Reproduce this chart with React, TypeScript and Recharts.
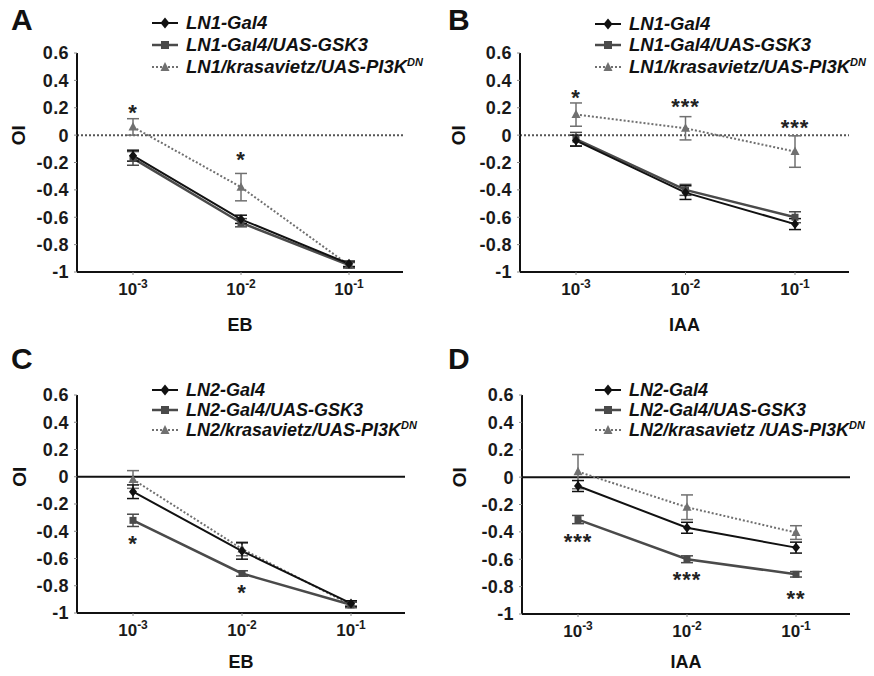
import React from "react";
import {
  ErrorBar,
  Label,
  Legend,
  Line,
  LineChart,
  ReferenceLine,
  XAxis,
  YAxis,
} from "recharts";

const FONT = '"Liberation Sans", Arial, Helvetica, sans-serif';

// concentrations are 10^x, x from this list
const exponents = ["-3", "-2", "-1"];
const yTicks = [-1, -0.8, -0.6, -0.4, -0.2, 0, 0.2, 0.4, 0.6];

// A: LN1, EB
const aGal4 = [-0.15, -0.615, -0.94];
const aGal4Err = [0.04, 0.03, 0.02];
const aGsk3 = [-0.17, -0.64, -0.95];
const aGsk3Err = [0.05, 0.03, 0.02];
const aPi3k = [0.06, -0.38, -0.95];
const aPi3kErr = [0.06, 0.1, 0.02];
const aStars = ["*", "*", ""];
const aStarY = [0.2, -0.145, null];

// B: LN1, IAA
const bGal4 = [-0.04, -0.42, -0.65];
const bGal4Err = [0.04, 0.05, 0.04];
const bGsk3 = [-0.03, -0.4, -0.6];
const bGsk3Err = [0.05, 0.04, 0.04];
const bPi3k = [0.15, 0.05, -0.12];
const bPi3kErr = [0.085, 0.085, 0.115];
const bStars = ["*", "***", "***"];
const bStarY = [0.31, 0.24, 0.09];

// C: LN2, EB
const cGal4 = [-0.11, -0.545, -0.93];
const cGal4Err = [0.05, 0.06, 0.02];
const cGsk3 = [-0.32, -0.71, -0.94];
const cGsk3Err = [0.045, 0.02, 0.02];
const cPi3k = [-0.02, -0.53, -0.94];
const cPi3kErr = [0.065, 0.05, 0.02];
const cStars = ["*", "*", ""];
const cStarY = [-0.46, -0.815, null];

// D: LN2, IAA
const dGal4 = [-0.065, -0.37, -0.515];
const dGal4Err = [0.04, 0.04, 0.04];
const dGsk3 = [-0.31, -0.6, -0.71];
const dGsk3Err = [0.03, 0.025, 0.02];
const dPi3k = [0.04, -0.22, -0.405];
const dPi3kErr = [0.125, 0.09, 0.05];
const dStars = ["***", "***", "**"];
const dStarY = [-0.44, -0.715, -0.855];

const ln1Names = ["LN1-Gal4", "LN1-Gal4/UAS-GSK3", "LN1/krasavietz/UAS-PI3K"];
const ln2Names = ["LN2-Gal4", "LN2-Gal4/UAS-GSK3", "LN2/krasavietz/UAS-PI3K"];
const ln2NamesD = ["LN2-Gal4", "LN2-Gal4/UAS-GSK3", "LN2/krasavietz /UAS-PI3K"];

const C_GAL4 = "#111";
const C_GSK3 = "#4a4a4a";
const C_PI3K = "#707070";

function makeRows(
  gal4: number[], gal4Err: number[],
  gsk3: number[], gsk3Err: number[],
  pi3k: number[], pi3kErr: number[],
  stars: string[], starY: (number | null)[]
) {
  return exponents.map((e, i) => ({
    conc: e,
    gal4: gal4[i], gal4Err: gal4Err[i],
    gsk3: gsk3[i], gsk3Err: gsk3Err[i],
    pi3k: pi3k[i], pi3kErr: pi3kErr[i],
    star: stars[i], starY: starY[i],
  }));
}

const Diamond = (p: any) => {
  const { cx, cy, index } = p;
  if (cx == null || cy == null) return <g key={index} />;
  return <path key={index} d={`M${cx},${cy - 5}L${cx + 4},${cy}L${cx},${cy + 5}L${cx - 4},${cy}Z`} fill={C_GAL4} />;
};
const Square = (p: any) => {
  const { cx, cy, index } = p;
  if (cx == null || cy == null) return <g key={index} />;
  return <rect key={index} x={cx - 3.5} y={cy - 3.5} width={7} height={7} fill={C_GSK3} />;
};
const Triangle = (p: any) => {
  const { cx, cy, index } = p;
  if (cx == null || cy == null) return <g key={index} />;
  return <path key={index} d={`M${cx},${cy - 5}L${cx + 4.5},${cy + 3.5}L${cx - 4.5},${cy + 3.5}Z`} fill={C_PI3K} />;
};
const StarDot = (p: any) => {
  const { cx, cy, index, payload } = p;
  if (cx == null || cy == null || !payload.star) return <g key={index} />;
  return (
    <text key={index} x={cx} y={cy + 12} textAnchor="middle" fontSize={22} fontWeight="bold" fill="#222" fontFamily={FONT} letterSpacing={1}>
      {payload.star}
    </text>
  );
};

const PowerTick = (p: any) => {
  const { x, y, payload } = p;
  return (
    <text x={x} y={y + 18} textAnchor="middle" fontFamily={FONT} fontWeight="bold" fontSize={17} fill="#1a1a1a">
      <tspan>10</tspan>
      <tspan dy={-7} fontSize={12}>{payload.value}</tspan>
    </text>
  );
};

function LegendBox({ names, rowH, size }: { names: string[]; rowH: number; size: number }) {
  const marks = [
    { color: C_GAL4, dash: undefined, w: 2, shape: "diamond" },
    { color: C_GSK3, dash: undefined, w: 2.5, shape: "square" },
    { color: C_PI3K, dash: "2 2", w: 2, shape: "triangle" },
  ];
  return (
    <div style={{ fontFamily: FONT, fontWeight: "bold", fontStyle: "italic", fontSize: size, lineHeight: 1, color: "#111", whiteSpace: "nowrap" }}>
      {names.map((n, i) => {
        const m = marks[i];
        return (
          <div key={n} style={{ display: "flex", alignItems: "center", height: rowH, overflow: "visible" }}>
            <svg width={26} height={12} style={{ marginRight: 8, flex: "none" }}>
              <line x1={0} x2={26} y1={6} y2={6} stroke={m.color} strokeWidth={m.w} strokeDasharray={m.dash} />
              {m.shape === "diamond" && <path d="M13,0.5L17.5,6L13,11.5L8.5,6Z" fill={m.color} />}
              {m.shape === "square" && <rect x={9} y={2} width={8} height={8} fill={m.color} />}
              {m.shape === "triangle" && <path d="M13,1L17.5,10L8.5,10Z" fill={m.color} />}
            </svg>
            <span style={{ lineHeight: 1 }}>
              {n}
              {i === 2 && (
                <span style={{ fontSize: 11, position: "relative", top: -7, lineHeight: 0 }}>DN</span>
              )}
            </span>
          </div>
        );
      })}
    </div>
  );
}

type PanelProps = {
  left: number;
  top: number;
  letter: string;
  xTitle: string;
  titleDy: number;
  names: string[];
  data: any[];
  plotLeft: number;
  plotRight: number;
  plotTop: number;
  plotBottom: number;
  labelX: number;
  zeroDotted: boolean;
  legendLeft: number;
  legendTop: number;
  legendRow: number;
  legendSize: number;
};

const W = 437;
const H = 338;
const XH = 60;

function Panel(p: PanelProps) {
  return (
    <div style={{ position: "absolute", left: p.left, top: p.top, width: W, height: H }}>
      <LineChart
        width={W}
        height={H}
        data={p.data}
        margin={{ top: p.plotTop, right: W - p.plotRight, left: 0, bottom: H - p.plotBottom - XH }}
      >
        <XAxis
          dataKey="conc"
          height={XH}
          padding={{ left: 56, right: 54 }}
          axisLine={{ stroke: "#111", strokeWidth: 2 }}
          tickLine={{ stroke: "#888" }}
          tickSize={3}
          tickMargin={2}
          tick={<PowerTick />}
        >
          <Label
            content={(lp: any) => {
              const vb = lp.viewBox;
              return (
                <text x={vb.x + vb.width / 2} y={vb.y + p.titleDy} textAnchor="middle" fontFamily={FONT} fontWeight="bold" fontSize={18} fill="#111">
                  {p.xTitle}
                </text>
              );
            }}
          />
        </XAxis>
        <YAxis
          width={p.plotLeft}
          domain={[-1, 0.6]}
          ticks={yTicks}
          interval={0}
          axisLine={{ stroke: "#111", strokeWidth: 2 }}
          tickLine={{ stroke: "#888" }}
          tickSize={3}
          tickMargin={5}
          tick={{ fontFamily: FONT, fontWeight: "bold", fontSize: 18, fill: "#1a1a1a", letterSpacing: 0.4 }}
          tickFormatter={(v: number) => String(v)}
        >
          <Label
            content={(lp: any) => {
              const vb = lp.viewBox;
              const cy = vb.y + vb.height * 0.375;
              return (
                <text x={p.labelX} y={cy} transform={`rotate(-90 ${p.labelX} ${cy})`} textAnchor="middle" dominantBaseline="central" fontFamily={FONT} fontWeight="bold" fontSize={19} fill="#111">
                  OI
                </text>
              );
            }}
          />
        </YAxis>
        <ReferenceLine
          y={0}
          stroke={p.zeroDotted ? "#555" : "#111"}
          strokeWidth={2}
          strokeDasharray={p.zeroDotted ? "2 2" : undefined}
        />
        <Legend
          layout="vertical"
          align="center"
          verticalAlign="middle"
          wrapperStyle={{ left: p.legendLeft, top: p.legendTop, width: "auto" }}
          content={() => <LegendBox names={p.names} rowH={p.legendRow} size={p.legendSize} />}
        />
        <Line dataKey="pi3k" stroke={C_PI3K} strokeWidth={2} strokeDasharray="2 2" dot={Triangle} activeDot={false} isAnimationActive={false}>
          <ErrorBar dataKey="pi3kErr" width={6} stroke={C_PI3K} strokeWidth={1.5} direction="y" />
        </Line>
        <Line dataKey="gsk3" stroke={C_GSK3} strokeWidth={2.5} dot={Square} activeDot={false} isAnimationActive={false}>
          <ErrorBar dataKey="gsk3Err" width={6} stroke={C_GSK3} strokeWidth={1.5} direction="y" />
        </Line>
        <Line dataKey="gal4" stroke={C_GAL4} strokeWidth={2} dot={Diamond} activeDot={false} isAnimationActive={false}>
          <ErrorBar dataKey="gal4Err" width={6} stroke={C_GAL4} strokeWidth={1.5} direction="y" />
        </Line>
        <Line dataKey="starY" stroke="none" dot={StarDot} activeDot={false} legendType="none" isAnimationActive={false} />
      </LineChart>
      <div
        style={{
          position: "absolute",
          left: 11,
          top: p.letter === "C" || p.letter === "D" ? 6 : 5,
          fontFamily: FONT,
          fontWeight: "bold",
          fontSize: 30,
          lineHeight: "30px",
          color: "#111",
        }}
      >
        {p.letter}
      </div>
    </div>
  );
}

export default function App() {
  return (
    <div style={{ position: "absolute", left: 0, top: 0, width: 874, height: 676, background: "#fff" }}>
      <Panel
        left={0}
        top={0}
        letter="A"
        xTitle="EB"
        titleDy={59}
        names={ln1Names}
        data={makeRows(aGal4, aGal4Err, aGsk3, aGsk3Err, aPi3k, aPi3kErr, aStars, aStarY)}
        plotLeft={77}
        plotRight={403}
        plotTop={53}
        plotBottom={272}
        labelX={18}
        zeroDotted
        legendLeft={152}
        legendTop={12}
        legendRow={22}
        legendSize={18.5}
      />
      <Panel
        left={437}
        top={0}
        letter="B"
        xTitle="IAA"
        titleDy={59}
        names={ln1Names}
        data={makeRows(bGal4, bGal4Err, bGsk3, bGsk3Err, bPi3k, bPi3kErr, bStars, bStarY)}
        plotLeft={83}
        plotRight={412}
        plotTop={53}
        plotBottom={272}
        labelX={21}
        zeroDotted
        legendLeft={158}
        legendTop={13}
        legendRow={21.5}
        legendSize={18.5}
      />
      <Panel
        left={0}
        top={338}
        letter="C"
        xTitle="EB"
        titleDy={55}
        names={ln2Names}
        data={makeRows(cGal4, cGal4Err, cGsk3, cGsk3Err, cPi3k, cPi3kErr, cStars, cStarY)}
        plotLeft={77}
        plotRight={405}
        plotTop={57}
        plotBottom={275}
        labelX={19}
        zeroDotted={false}
        legendLeft={152}
        legendTop={42}
        legendRow={20}
        legendSize={18}
      />
      <Panel
        left={437}
        top={338}
        letter="D"
        xTitle="IAA"
        titleDy={54}
        names={ln2NamesD}
        data={makeRows(dGal4, dGal4Err, dGsk3, dGsk3Err, dPi3k, dPi3kErr, dStars, dStarY)}
        plotLeft={85}
        plotRight={413}
        plotTop={57}
        plotBottom={276}
        labelX={22}
        zeroDotted={false}
        legendLeft={158}
        legendTop={42}
        legendRow={20}
        legendSize={18}
      />
    </div>
  );
}
